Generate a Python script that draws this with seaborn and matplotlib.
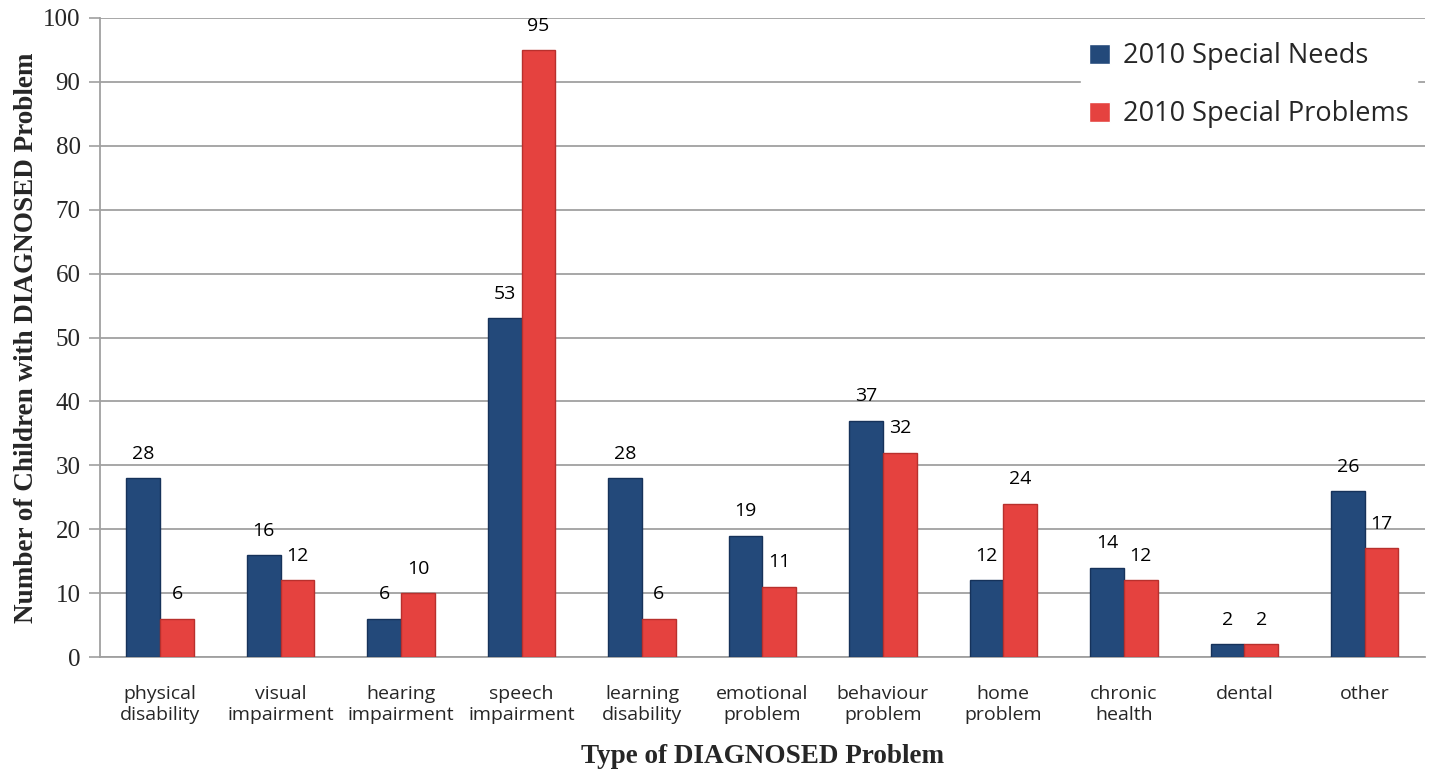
import matplotlib
matplotlib.use("Agg")
import matplotlib.pyplot as plt
import numpy as np
import pandas as pd
import seaborn as sns

categories = ['physical\ndisability', 'visual\nimpairment', 'hearing\nimpairment',
              'speech\nimpairment', 'learning\ndisability', 'emotional\nproblem',
              'behaviour\nproblem', 'home\nproblem', 'chronic\nhealth', 'dental', 'other']
special_needs = [28, 16, 6, 53, 28, 19, 37, 12, 14, 2, 26]
special_problems = [6, 12, 10, 95, 6, 11, 32, 24, 12, 2, 17]
series_names = ['2010 Special Needs', '2010 Special Problems']
y_ticks = list(range(0, 101, 10))

df = pd.concat([
    pd.DataFrame({'category': categories, 'count': special_needs, 'series': series_names[0]}),
    pd.DataFrame({'category': categories, 'count': special_problems, 'series': series_names[1]}),
], ignore_index=True)

sns.set_theme(style="white")
grid_col = '#a0a0a0'

fig = plt.figure(figsize=(14.34, 7.69), dpi=100)
ax = fig.add_axes([0.0697, 0.1456, 0.924, 0.831])

palette = {series_names[0]: '#23497a', series_names[1]: '#e5423f'}
edges = {series_names[0]: '#16325a', series_names[1]: '#b8302d'}
sns.barplot(data=df, x='category', y='count', hue='series', palette=palette,
            width=0.56, gap=0, ax=ax, zorder=3, saturation=1)

for cont, name in zip(ax.containers, series_names):
    for bar in cont:
        bar.set_edgecolor(edges[name])
        bar.set_linewidth(1.0)
    ax.bar_label(cont, padding=11, fontsize=14, family='Open Sans', color='black')

ax.set_ylim(0, 100)
ax.set_xlim(-0.5, len(categories) - 0.5)
ax.set_yticks(y_ticks)
ax.set_yticklabels([str(t) for t in y_ticks], family='Liberation Serif', fontsize=18)
ax.set_xticks(range(len(categories)))
ax.set_xticklabels(categories, family='Open Sans', fontsize=14, linespacing=1.2)
ax.set_xticks(np.arange(-0.5, len(categories) + 0.5, 1), minor=True)
ax.tick_params(axis='x', which='major', length=0, pad=20)
ax.tick_params(axis='x', which='minor', length=8, color=grid_col, width=1.2, direction='out')
ax.tick_params(axis='y', length=8, color=grid_col, width=1.2, direction='out', pad=6, left=True)

ax.yaxis.grid(True, color=grid_col, linewidth=1.3, zorder=0)
ax.set_axisbelow(True)
for side in ['top', 'right']:
    ax.spines[side].set_visible(False)
for side in ['left', 'bottom']:
    ax.spines[side].set_color(grid_col)
    ax.spines[side].set_linewidth(1.3)

ax.set_ylabel('Number of Children with DIAGNOSED Problem', family='Liberation Serif',
              fontweight='bold', fontsize=19.5, labelpad=3)
ax.set_xlabel('Type of DIAGNOSED Problem', family='Liberation Serif',
              fontweight='bold', fontsize=19.5, labelpad=15)

leg = ax.legend(loc='upper right', bbox_to_anchor=(0.994, 0.975), frameon=True,
                handlelength=0.75, handleheight=0.75, labelspacing=1.12,
                borderpad=0.3, handletextpad=0.5, borderaxespad=0.0,
                prop={'family': 'Open Sans', 'size': 19.5})
leg.get_frame().set_facecolor('white')
leg.get_frame().set_edgecolor('white')
leg.get_frame().set_alpha(1)
leg.set_zorder(5)

fig.savefig('out.png', dpi=100)
